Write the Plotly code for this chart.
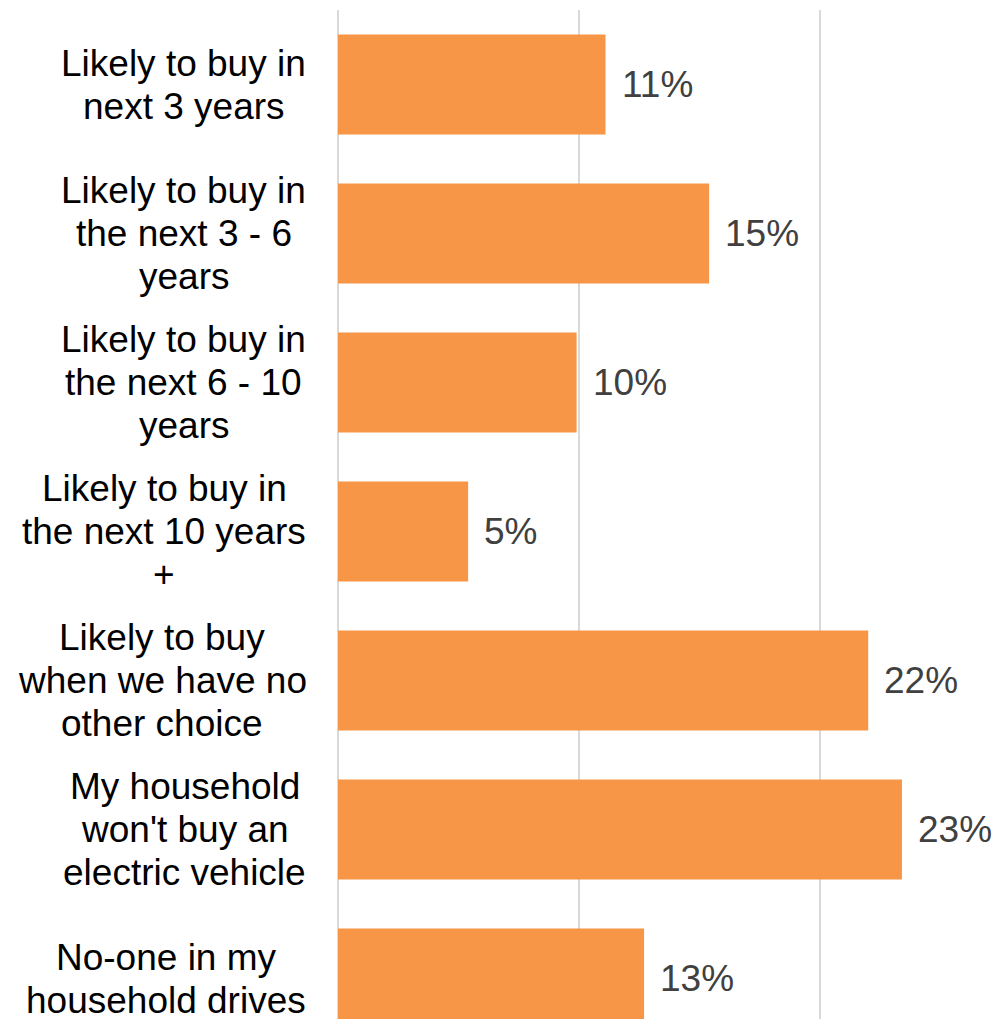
import plotly.graph_objects as go

categories = [
    ["Likely to buy in", "next 3 years"],
    ["Likely to buy in", "the next 3 - 6", "years"],
    ["Likely to buy in", "the next 6 - 10", "years"],
    ["Likely to buy in", "the next 10 years", "+"],
    ["Likely to buy", "when we have no", "other choice"],
    ["My household", "won't buy an", "electric vehicle"],
    ["No-one in my", "household drives"],
]
values = [11.1, 15.4, 9.9, 5.4, 22.0, 23.4, 12.7]
value_labels = [f"{round(v)}%" for v in values]

BAR_COLOR = "#F79646"
FONT = "Arial, Liberation Sans, sans-serif"
FS = 37
LINE_H = 43

# Arial / Liberation Sans advance widths (per 1000 em) used to centre wrapped labels
ADV = {" ": 278, "'": 191, "+": 584, "-": 333, "L": 556, "M": 833, "N": 722,
       "a": 556, "b": 556, "c": 500, "d": 556, "e": 556, "h": 556, "i": 222,
       "k": 500, "l": 222, "m": 833, "n": 556, "o": 556, "r": 333, "s": 500,
       "t": 278, "u": 556, "v": 500, "w": 722, "x": 500, "y": 500}
def text_w(s):
    return sum(ADV.get(ch, 556) for ch in s) * FS / 1000.0

W, H = 997, 1019
PLOT_LEFT = 338
ML, MT = PLOT_LEFT, 10
plot_w = W - ML
plot_h = H - MT
px_per_unit_x = 24.1
px_per_cat = 149.0
LABEL_RIGHT = 306

ypos = list(range(len(categories)))

fig = go.Figure()
fig.add_trace(go.Bar(
    x=values, y=ypos, orientation="h",
    marker=dict(color=BAR_COLOR, line=dict(width=0)),
    width=0.67,
    hoverinfo="skip",
))

annotations = []
for i, (lines, v, t) in enumerate(zip(categories, values, value_labels)):
    maxw = max(text_w(s) for s in lines)
    center = LABEL_RIGHT - maxw / 2
    n = len(lines)
    for k, s in enumerate(lines):
        annotations.append(dict(
            x=(center - PLOT_LEFT) / plot_w, xref="paper", y=i, yref="y",
            text=s, showarrow=False, xanchor="center", yanchor="middle",
            yshift=-(k - (n - 1) / 2) * LINE_H,
            font=dict(family=FONT, size=FS, color="#000000"),
        ))
    annotations.append(dict(
        x=v, xref="x", y=i, yref="y", text=t, showarrow=False,
        xanchor="left", yanchor="middle", xshift=14,
        font=dict(family=FONT, size=FS, color="#404040"),
    ))

fig.update_layout(
    width=W, height=H,
    margin=dict(l=ML, r=0, t=MT, b=0, pad=0),
    paper_bgcolor="white", plot_bgcolor="white",
    showlegend=False,
    xaxis=dict(
        range=[0, plot_w / px_per_unit_x], dtick=10, tick0=0,
        showgrid=True, gridcolor="#D9D9D9", gridwidth=2,
        zeroline=True, zerolinecolor="#D9D9D9", zerolinewidth=2,
        showticklabels=False, ticks="", showline=False, fixedrange=True,
    ),
    yaxis=dict(
        range=[-0.5 + plot_h / px_per_cat, -0.5],
        showticklabels=False, showgrid=False, zeroline=False,
        ticks="", showline=False, fixedrange=True,
    ),
    annotations=annotations,
)

fig.write_html(
    "out.html",
    config={"displayModeBar": False},
    post_script="document.body.style.margin='0';document.body.style.overflow='hidden';",
)
